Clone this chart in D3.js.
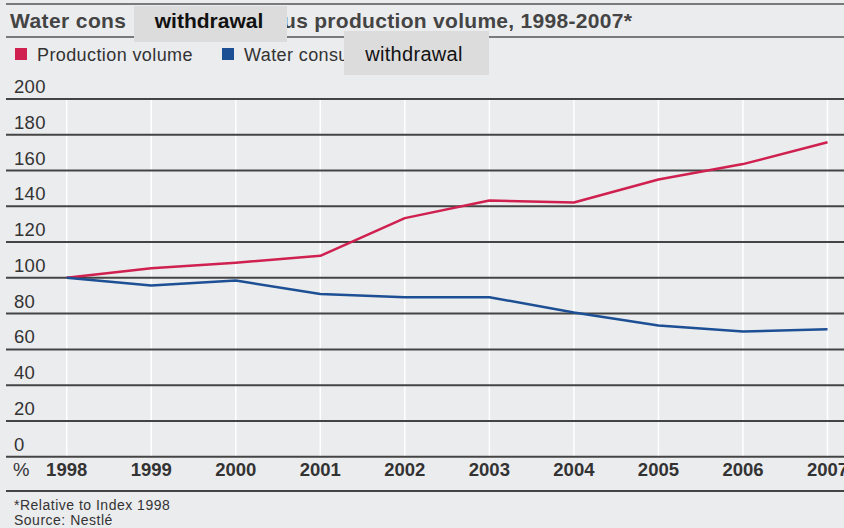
<!DOCTYPE html>
<html><head><meta charset="utf-8">
<script src="https://cdn.jsdelivr.net/npm/d3@7"></script>
<style>
html,body{margin:0;padding:0;background:#ebecee;}
svg{display:block;font-family:"Liberation Sans",Arial,Helvetica,sans-serif;}
</style></head>
<body>
<svg id="c" width="844" height="528"></svg>
<script>
const years = [1998,1999,2000,2001,2002,2003,2004,2005,2006,2007];
const production = [100,105.4,108.5,112.3,133.4,143.2,142.1,155,163.6,175.8];
const water = [100,95.7,98.5,91,89.2,89.2,80.6,73.4,70,71.3];
const yTicks = [0,20,40,60,80,100,120,140,160,180,200];
const seriesNames = ["Production volume","Water consu"];
const seriesColors = ["#cf2050","#1d4f95"];

const svg = d3.select("#c");
svg.append("rect").attr("width",844).attr("height",528).attr("fill","#ebecee");

const x = d3.scaleLinear().domain([1998,2007]).range([66.7,827.5]);
const y = d3.scaleLinear().domain([0,200]).range([456.7,99]);

// title rules
svg.append("line").attr("x1",6).attr("x2",844).attr("y1",4).attr("y2",4).attr("stroke","#555").attr("stroke-width",1.5);
svg.append("line").attr("x1",6).attr("x2",844).attr("y1",37).attr("y2",37).attr("stroke","#555").attr("stroke-width",1.5);

// title
svg.append("text").attr("x",10).attr("y",28).attr("font-size",21).attr("letter-spacing",0.4).attr("font-weight","bold").attr("fill","#444").text("Water cons");
svg.append("text").attr("x",283).attr("y",28).attr("font-size",21).attr("letter-spacing",0.3).attr("font-weight","bold").attr("fill","#444").text("us production volume, 1998-2007*");
svg.append("rect").attr("x",134).attr("y",6).attr("width",153).attr("height",36).attr("fill","#dcdcdc");
svg.append("text").attr("x",209).attr("y",28).attr("text-anchor","middle").attr("font-size",21).attr("font-weight","bold").attr("fill","#111").text("withdrawal");

// legend
const legX = [15,222];
seriesNames.forEach((n,i)=>{
  svg.append("rect").attr("x",legX[i]).attr("y",48).attr("width",12).attr("height",12).attr("fill",seriesColors[i]);
  svg.append("text").attr("x",legX[i]+22).attr("y",61).attr("font-size",18).attr("letter-spacing",0.4).attr("fill","#333").text(n);
});
svg.append("rect").attr("x",344).attr("y",31).attr("width",145).attr("height",44).attr("fill","#dcdcdc");
svg.append("text").attr("x",414).attr("y",61).attr("text-anchor","middle").attr("font-size",20).attr("letter-spacing",0.3).attr("fill","#111").text("withdrawal");

// vertical white gridlines
svg.append("g").selectAll("line").data(years).join("line")
  .attr("x1",d=>x(d)).attr("x2",d=>x(d)).attr("y1",y(200)).attr("y2",y(0))
  .attr("stroke","#ffffff").attr("stroke-width",1.5);

// horizontal gridlines + labels
const yAxis = d3.axisLeft(y).tickValues(yTicks).tickSize(0).tickFormat(d3.format("d"));
const gy = svg.append("g");
gy.selectAll("line").data(yTicks).join("line")
  .attr("x1",6).attr("x2",844).attr("y1",d=>y(d)).attr("y2",d=>y(d))
  .attr("stroke","#444").attr("stroke-width",2);
gy.selectAll("text").data(yTicks).join("text")
  .attr("x",14).attr("y",d=>y(d)-6).attr("font-size",18.5).attr("letter-spacing",0.3).attr("fill","#333")
  .text(d=>yAxis.tickFormat()(d));

// x labels
svg.append("text").attr("x",13).attr("y",476).attr("font-size",18.5).attr("fill","#333").text("%");
const xAxis = d3.axisBottom(x).tickValues(years).tickSize(0).tickFormat(d3.format("d"));
const gx = svg.append("g").attr("transform","translate(0,476)");
gx.selectAll("text").data(years).join("text")
  .attr("x",d=>x(d)).attr("text-anchor","middle").attr("font-size",18.5).attr("font-weight","bold").attr("fill","#333")
  .text(d=>xAxis.tickFormat()(d));

svg.append("line").attr("x1",6).attr("x2",844).attr("y1",491).attr("y2",491).attr("stroke","#444").attr("stroke-width",2);

// lines
const line = d3.line().x((d,i)=>x(years[i])).y(d=>y(d));
[production,water].forEach((s,i)=>{
  svg.append("path").datum(s).attr("d",line).attr("fill","none")
    .attr("stroke",seriesColors[i]).attr("stroke-width",2.5).attr("stroke-linejoin","round");
});

// footnotes
svg.append("text").attr("x",14).attr("y",510).attr("font-size",14).attr("letter-spacing",0.5).attr("fill","#333").text("*Relative to Index 1998");
svg.append("text").attr("x",14).attr("y",525).attr("font-size",14).attr("letter-spacing",0.5).attr("fill","#333").text("Source: Nestlé");
</script>
</body></html>
